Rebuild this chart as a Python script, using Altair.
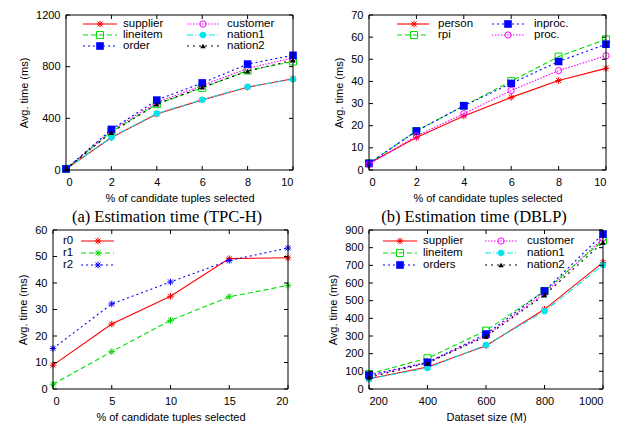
import altair as alt
import pandas as pd

# ---------------- data ----------------
a_x = [0, 2, 4, 6, 8, 10]
a_supplier = [8, 252, 433, 543, 641, 707]
a_customer = [8, 306, 523, 654, 787, 868]
a_lineitem = [8, 297, 510, 636, 770, 840]
a_nation1 = [8, 252, 438, 543, 645, 702]
a_order = [8, 314, 541, 674, 820, 888]
a_nation2 = [8, 290, 510, 641, 765, 850]

b_x = [0, 2, 4, 6, 8, 10]
b_person = [3.0, 14.7, 24.4, 32.8, 40.4, 45.9]
b_rpi = [3.0, 17.6, 29.0, 40.1, 51.2, 59.0]
b_inproc = [3.0, 17.6, 29.0, 39.1, 49.0, 56.8]
b_proc = [2.5, 15.4, 25.4, 35.9, 44.9, 51.6]

c_x = [0, 5, 10, 15, 20]
c_r0 = [9.0, 24.5, 35.0, 49.2, 49.5]
c_r1 = [1.8, 14.1, 25.9, 34.8, 39.1]
c_r2 = [15.3, 32.1, 40.4, 48.5, 53.2]

d_x = [200, 400, 600, 800, 1000]
d_supplier = [58, 125, 245, 451, 717]
d_customer = [72, 151, 302, 542, 853]
d_lineitem = [85, 174, 330, 555, 841]
d_nation1 = [57, 119, 249, 440, 702]
d_orders = [79, 151, 311, 555, 877]
d_nation2 = [66, 147, 298, 532, 830]

a_xticks = [0, 2, 4, 6, 8, 10]
a_yticks = [0, 400, 800, 1200]
b_xticks = [0, 2, 4, 6, 8, 10]
b_yticks = [0, 10, 20, 30, 40, 50, 60, 70]
c_xticks = [0, 5, 10, 15, 20]
c_yticks = [0, 10, 20, 30, 40, 50, 60]
d_xticks = [200, 400, 600, 800, 1000]
d_yticks = [0, 100, 200, 300, 400, 500, 600, 700, 800, 900]

captions = [
    "(a)  Estimation time (TPC-H)",
    "(b)  Estimation time (DBLP)",
    "(c)  Estimation time for different r values",
    "(d)  Estimation time for varying dataset size",
]
xtitle_pct = "% of candidate tuples selected"
xtitle_size = "Dataset size (M)"
ytitle = "Avg. time (ms)"

# ---------------- styles ----------------
STAR = "M-1,0L1,0M0,-1L0,1M-0.75,-0.75L0.75,0.75M-0.75,0.75L0.75,-0.75"
RED, GREEN, BLUE, MAG, CYAN, BLACK = "#ff0000", "#00dd00", "#0000ff", "#ff00ff", "#00e5ee", "#000000"

def st(color, dash, shape, filled, size):
    return dict(color=color, dash=dash, shape=shape, filled=filled, size=size)

tpch_styles = {
    "supplier": st(RED, None, STAR, False, 44),
    "customer": st(MAG, [1.5, 1.5], "circle", False, 40),
    "lineitem": st(GREEN, [5, 3], "square", False, 50),
    "nation1": st(CYAN, [6, 2, 1, 2], "circle", True, 40),
    "order": st(BLUE, [2, 3], "square", True, 58),
    "orders": st(BLUE, [2, 3], "square", True, 58),
    "nation2": st(BLACK, [2, 4], "triangle-up", True, 30),
}
dblp_styles = {
    "person": st(RED, None, STAR, False, 44),
    "rpi": st(GREEN, [5, 3], "square", False, 50),
    "inproc.": st(BLUE, [2, 3], "square", True, 58),
    "proc.": st(MAG, [1.5, 1.5], "circle", False, 40),
}
r_styles = {
    "r0": st(RED, None, STAR, False, 44),
    "r1": st(GREEN, [5, 3], STAR, False, 44),
    "r2": st(BLUE, [2, 3], STAR, False, 44),
}

FONT = "Liberation Sans"
dummy = pd.DataFrame({"k": [0]})


def line_kw(s):
    kw = dict(color=s["color"], strokeWidth=1.1)
    if s["dash"] is not None:
        kw["strokeDash"] = s["dash"]
    return kw


def point_kw(s):
    return dict(shape=s["shape"], filled=s["filled"], size=s["size"], color=s["color"],
                opacity=1, strokeWidth=1)


def panel(xs, series, styles, xdom, xticks, ydom, yticks, origin, view_left, w, h, vw,
          xtitle, legend, caption, cap_center):
    # origin: page coords of the plot area's top-left; view_left: page x of the view group
    ox, oy = origin
    xl = ox - view_left
    xr = xl + w
    rows = []
    for name, vals in series:
        for xv, yv in zip(xs, vals):
            rows.append({"x": xv, "y": yv, "s": name})
    df = pd.DataFrame(rows)

    X = alt.X("x:Q", scale=alt.Scale(domain=xdom, range=[xl, xr], nice=False, zero=False),
              axis=alt.Axis(values=xticks, title=xtitle, format="d", labelPadding=6,
                            titlePadding=5))
    Y = alt.Y("y:Q", scale=alt.Scale(domain=ydom, nice=False),
              axis=alt.Axis(values=yticks, title=ytitle, format="d", labelPadding=6,
                            titlePadding=6, offset=max(0, -xl)))
    layers = []
    for name, _ in series:
        s = styles[name]
        base = alt.Chart(df).transform_filter(alt.datum.s == name)
        layers.append(base.mark_line(**line_kw(s)).encode(x=X, y=Y))
        layers.append(base.mark_point(**point_kw(s)).encode(x=X, y=Y))

    # frame and inward (mirrored) ticks
    layers.append(alt.Chart(dummy).mark_rect(fillOpacity=0, stroke="black", strokeWidth=1)
                  .encode(x=alt.value(xl), x2=alt.value(xr), y=alt.value(0), y2=alt.value(h)))
    ytd = pd.DataFrame({"y": yticks})
    xtd = pd.DataFrame({"x": xticks})
    layers.append(alt.Chart(ytd).mark_rule(color="black", strokeWidth=1)
                  .encode(y=Y, x=alt.value(xl), x2=alt.value(xl + 4)))
    layers.append(alt.Chart(ytd).mark_rule(color="black", strokeWidth=1)
                  .encode(y=Y, x=alt.value(xr - 4), x2=alt.value(xr)))
    layers.append(alt.Chart(xtd).mark_rule(color="black", strokeWidth=1)
                  .encode(x=X, y=alt.value(h - 4), y2=alt.value(h)))
    layers.append(alt.Chart(xtd).mark_rule(color="black", strokeWidth=1)
                  .encode(x=X, y=alt.value(0), y2=alt.value(4)))

    # legend (page coordinates converted to view coordinates)
    for name, lx0, lx1, mx, ly, tx, talign in legend:
        s = styles[name]
        vx = -view_left
        vy = ly - oy
        layers.append(alt.Chart(dummy).mark_rule(**line_kw(s))
                      .encode(x=alt.value(lx0 + vx), x2=alt.value(lx1 + vx), y=alt.value(vy)))
        layers.append(alt.Chart(dummy).mark_point(**point_kw(s))
                      .encode(x=alt.value(mx + vx), y=alt.value(vy)))
        layers.append(alt.Chart(dummy).mark_text(font=FONT, fontSize=11.5, align=talign,
                                                 baseline="middle", color="black")
                      .encode(x=alt.value(tx + vx), y=alt.value(vy), text=alt.value(name)))

    cx, cy = cap_center
    layers.append(alt.Chart(dummy).mark_text(font="Liberation Serif", fontSize=16.5,
                                             align="center", baseline="middle", color="black")
                  .encode(x=alt.value(cx - view_left), y=alt.value(cy - oy),
                          text=alt.value(caption)))
    return alt.layer(*layers).properties(width=vw, height=h)


ROW1_TOP, ROW1_H = 14, 155
ROW2_TOP, ROW2_H = 229, 159
LEFT_VIEW = 66
COL_GAP = 76

pa = panel(a_x, [("supplier", a_supplier), ("customer", a_customer), ("lineitem", a_lineitem),
                 ("nation1", a_nation1), ("order", a_order), ("nation2", a_nation2)],
           tpch_styles, [0, 10], a_xticks, [0, 1200], a_yticks,
           (66, ROW1_TOP), LEFT_VIEW, 227, ROW1_H, 227, xtitle_pct,
           [("supplier", 83, 117, 100, 23, 123, "left"),
            ("lineitem", 83, 117, 100, 34, 123, "left"),
            ("order", 83, 117, 100, 45, 123, "left"),
            ("customer", 187, 220, 203, 23, 227, "left"),
            ("nation1", 187, 220, 203, 34, 227, "left"),
            ("nation2", 187, 220, 203, 45, 227, "left")],
           captions[0], (167, 216))

pb = panel(b_x, [("person", b_person), ("rpi", b_rpi), ("inproc.", b_inproc), ("proc.", b_proc)],
           dblp_styles, [0, 10], b_xticks, [0, 70], b_yticks,
           (369, ROW1_TOP), 369, 237, ROW1_H, 237, xtitle_pct,
           [("person", 397, 429, 414, 23, 438, "left"),
            ("rpi", 397, 429, 414, 34, 438, "left"),
            ("inproc.", 492, 524, 508, 23, 534, "left"),
            ("proc.", 492, 524, 508, 34, 534, "left")],
           captions[1], (474, 216))

pc = panel(c_x, [("r0", c_r0), ("r1", c_r1), ("r2", c_r2)],
           r_styles, [0, 20], c_xticks, [0, 60], c_yticks,
           (53, ROW2_TOP), LEFT_VIEW, 235, ROW2_H, 366 - COL_GAP - LEFT_VIEW, xtitle_pct,
           [("r0", 81, 114, 98, 240, 63, "left"),
            ("r1", 81, 114, 98, 252, 63, "left"),
            ("r2", 81, 114, 98, 264, 63, "left")],
           captions[2], (160, 435))

pd_ = panel(d_x, [("supplier", d_supplier), ("customer", d_customer), ("lineitem", d_lineitem),
                  ("nation1", d_nation1), ("orders", d_orders), ("nation2", d_nation2)],
            tpch_styles, [200, 1000], d_xticks, [0, 900], d_yticks,
            (366, ROW2_TOP), 366, 234, ROW2_H, 234, xtitle_size,
            [("supplier", 380, 414, 397, 240, 420, "left"),
             ("lineitem", 380, 414, 397, 252, 420, "left"),
             ("orders", 380, 414, 397, 264, 420, "left"),
             ("customer", 482, 514, 498, 240, 524, "left"),
             ("nation1", 482, 514, 498, 252, 524, "left"),
             ("nation2", 482, 514, 498, 264, 524, "left")],
            captions[3], (470, 435))

chart = alt.concat(
    pa, pb, pc, pd_, columns=2, bounds="flush", align="none",
    spacing={"row": ROW2_TOP - (ROW1_TOP + ROW1_H), "column": COL_GAP},
).properties(
    padding={"left": 9, "top": 0, "right": 0, "bottom": 0}
).configure_view(stroke="transparent").configure_axis(
    labelFont=FONT, labelFontSize=11, titleFont=FONT, titleFontSize=11,
    titleFontWeight="normal", labelColor="black", titleColor="black",
    ticks=False, tickSize=0, domain=False, grid=False
)

chart.save("out.html", embed_options={"renderer": "svg", "actions": False})
